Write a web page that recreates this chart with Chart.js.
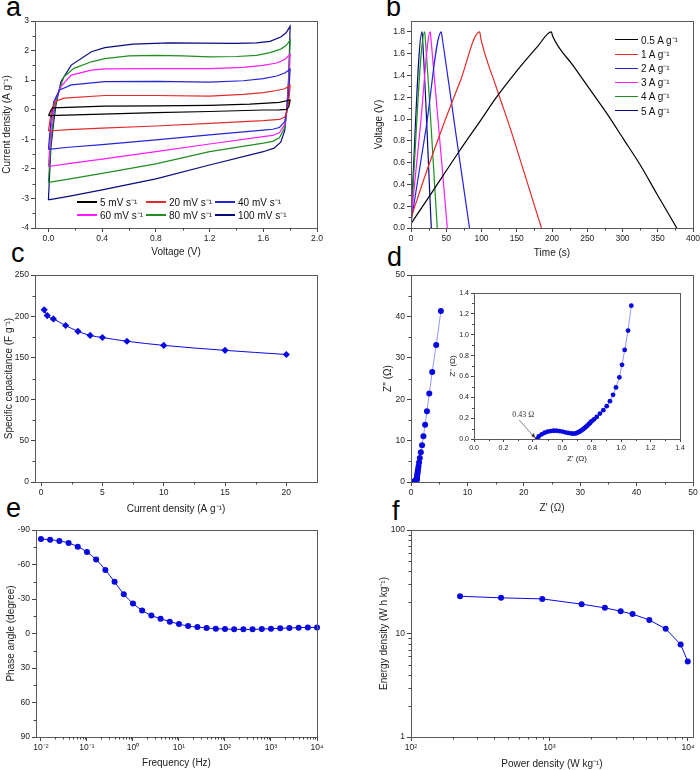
<!DOCTYPE html>
<html>
<head>
<meta charset="utf-8">
<script src="https://cdn.jsdelivr.net/npm/chart.js@4.4.1/dist/chart.umd.min.js"></script>
<style>
  body { margin: 0; background: #fff; width: 700px; height: 770px; position: relative; overflow: hidden;
         font-family: "Liberation Sans", Arial, sans-serif; }
  canvas { position: absolute; }
  .letter { position: absolute; font-size: 27px; line-height: 27px; color: #000; }
  .lg { position: absolute; font-size: 10px; line-height: 12px; height: 12px; white-space: nowrap; color: #111; }
  .lg .sw { display: inline-block; height: 0; border-top: 2px solid; vertical-align: middle; margin-right: 3px; position: relative; top: -1px; }
</style>
</head>
<body>

<div class="letter" style="left:6px;top:-6px">a</div>
<div class="letter" style="left:386px;top:-6px">b</div>
<div class="letter" style="left:11px;top:240px">c</div>
<div class="letter" style="left:387px;top:244px">d</div>
<div class="letter" style="left:6px;top:495px">e</div>
<div class="letter" style="left:392px;top:498px">f</div>

<script>
// ---- data ----
// (a) CV loops, [voltage, current density], upper branch then lower branch
const cv5 = [[0,-0.2],[0.02,0.0],[0.03,0.06],[0.42,0.12],[0.8,0.13],[1.2,0.15],[1.5,0.19],[1.72,0.25],[1.8,0.33],
  [1.79,0.1],[1.775,0.01],[1.72,-0.005],[1.6,-0.01],[1.2,-0.06],[0.8,-0.1],[0.4,-0.15],[0,-0.2]];
const cv20 = [[0,-0.72],[0.02,-0.1],[0.05,0.28],[0.115,0.39],[0.42,0.48],[0.8,0.48],[1.2,0.46],[1.45,0.52],[1.6,0.58],[1.7,0.65],[1.76,0.71],[1.8,0.82],
  [1.79,0.3],[1.775,-0.1],[1.76,-0.25],[1.72,-0.33],[1.6,-0.37],[1.2,-0.46],[0.8,-0.55],[0.4,-0.62],[0.15,-0.67],[0,-0.72]];
const cv40 = [[0,-1.34],[0.02,-0.3],[0.04,0.27],[0.083,0.67],[0.17,0.84],[0.42,0.95],[0.8,0.96],[1.2,0.93],[1.45,0.98],[1.6,1.05],[1.7,1.14],[1.76,1.24],[1.8,1.37],
  [1.79,0.6],[1.775,0],[1.76,-0.4],[1.72,-0.6],[1.67,-0.66],[1.6,-0.69],[1.2,-0.85],[0.8,-1.02],[0.4,-1.18],[0.15,-1.27],[0,-1.34]];
const cv60 = [[0,-1.92],[0.02,-0.6],[0.05,0.33],[0.093,0.78],[0.17,1.17],[0.32,1.34],[0.42,1.38],[0.8,1.39],[1.2,1.39],[1.45,1.43],[1.6,1.5],[1.7,1.58],[1.76,1.7],[1.8,1.87],
  [1.79,0.8],[1.775,0],[1.76,-0.5],[1.72,-0.78],[1.67,-0.87],[1.6,-0.91],[1.2,-1.16],[0.8,-1.42],[0.4,-1.67],[0.15,-1.82],[0,-1.92]];
const cv80 = [[0,-2.46],[0.02,-1.0],[0.045,0.0],[0.068,0.5],[0.115,1.11],[0.19,1.4],[0.32,1.62],[0.42,1.73],[0.6,1.82],[0.8,1.84],[1.0,1.82],[1.2,1.79],[1.4,1.8],[1.55,1.84],[1.65,1.93],[1.73,2.05],[1.77,2.17],[1.8,2.35],
  [1.79,1.0],[1.775,0],[1.76,-0.6],[1.72,-0.95],[1.67,-1.07],[1.6,-1.13],[1.2,-1.42],[0.8,-1.83],[0.4,-2.15],[0.15,-2.35],[0,-2.46]];
const cv100 = [[0,-3.05],[0.018,-1.3],[0.04,-0.4],[0.056,0.16],[0.093,0.95],[0.17,1.51],[0.32,1.96],[0.42,2.1],[0.63,2.22],[0.9,2.26],[1.13,2.25],[1.4,2.24],[1.55,2.26],[1.65,2.31],[1.73,2.46],[1.77,2.6],[1.8,2.82],
  [1.79,1.2],[1.775,0],[1.76,-0.7],[1.73,-1.1],[1.68,-1.3],[1.6,-1.42],[1.2,-1.87],[0.8,-2.34],[0.4,-2.71],[0.15,-2.93],[0,-3.05]];
const cvLabels = ['5 mV s⁻¹', '20 mV s⁻¹', '40 mV s⁻¹', '60 mV s⁻¹', '80 mV s⁻¹', '100 mV s⁻¹'];
const cvColors = ['#000000', '#e32b2b', '#2323d8', '#ff1aff', '#1f8f1f', '#0a0a80'];

// (b) charge/discharge, [time s, voltage V]
const gcd05 = [[0,0.04],[30,0.33],[68,0.70],[100,1.0],[120,1.19],[140,1.36],[160,1.52],[180,1.67],[199,1.8],
  [201,1.76],[230,1.49],[254,1.27],[278,1.05],[301,0.82],[325,0.58],[349,0.31],[377,0]];
const gcd1 = [[0,0.09],[20,0.48],[45,0.93],[70,1.35],[97.4,1.8],[99,1.74],[120,1.31],[140,0.93],[160,0.52],[185,0]];
const gcd2 = [[0,0.05],[21,0.9],[43,1.8],[44,1.76],[64,0.85],[83,0]];
const gcd3 = [[0,0.07],[13.5,0.95],[27.4,1.8],[28,1.76],[51.5,0]];
const gcd4 = [[0,0.08],[19.4,1.8],[20,1.76],[37.3,0]];
const gcd5 = [[0,0.1],[15.6,1.8],[16.2,1.76],[28.8,0]];
const gcdLabels = ['0.5 A g⁻¹', '1 A g⁻¹', '2 A g⁻¹', '3 A g⁻¹', '4 A g⁻¹', '5 A g⁻¹'];
const gcdColors = ['#000000', '#e32b2b', '#2323d8', '#ff1aff', '#1f8f1f', '#0a0a80'];

// (c) specific capacitance
const capCurrent = [0.25, 0.5, 1, 2, 3, 4, 5, 7, 10, 15, 20];
const capValue = [208, 201, 197, 189, 182, 177, 174.5, 170, 165, 159, 154];

// (d) Nyquist, Z' and Z''
const zRe = [0.43,0.44,0.46,0.48,0.50,0.52,0.54,0.56,0.58,0.60,0.62,0.64,0.66,0.675,0.69,0.70,0.71,0.72,0.73,0.74,0.75,0.76,0.77,0.78,0.79,0.80,
  0.816,0.834,0.856,0.879,0.902,0.924,0.945,0.965,0.988,1.006,1.024,1.047,1.069,
  1.10,1.14,1.19,1.25,1.33,1.43,1.56,1.74,1.96,2.2,2.5,2.83,3.24,3.76,4.47,5.3];
const zIm = [0,0.025,0.045,0.06,0.07,0.076,0.079,0.079,0.076,0.071,0.064,0.058,0.053,0.051,0.053,0.058,0.065,0.073,0.082,0.092,0.103,0.115,0.128,0.142,0.156,0.171,
  0.189,0.212,0.244,0.276,0.315,0.363,0.424,0.495,0.591,0.711,0.854,1.04,1.278,
  1.59,1.98,2.46,3.06,3.8,4.7,5.8,7.2,8.9,11.05,13.8,17.1,21.4,26.6,33.1,41.3];
const rsLabel = '0.43 Ω';
const rsValue = 0.43;

// (e) Bode phase
const freq = [0.01,0.0158,0.0251,0.0398,0.0631,0.1,0.158,0.251,0.398,0.631,1,1.58,2.51,3.98,6.31,10,15.8,25.1,39.8,63.1,
  100,158,251,398,631,1000,1585,2512,3981,6310,10000];
const phase = [-82.2,-81.6,-80.5,-78.7,-75.5,-70.9,-64.3,-55.3,-44.9,-34.2,-26.1,-20.1,-15.7,-12.9,-10.3,-8.2,-6.5,-5.6,-4.8,-4.2,
  -3.9,-3.6,-3.6,-3.6,-3.9,-4.2,-4.5,-4.8,-5.1,-5.3,-5.3];

// (f) Ragone
const power = [226, 447, 887, 1706, 2512, 3266, 3981, 5260, 6900, 8850, 9960];
const energy = [22.9, 22.1, 21.6, 19.2, 17.7, 16.4, 15.4, 13.5, 11.1, 7.83, 5.37];

// tick labels
const aXTicks = [0, 0.4, 0.8, 1.2, 1.6, 2.0];
const aYTicks = [-4, -3, -2, -1, 0, 1, 2, 3];
const bXTicks = [0, 50, 100, 150, 200, 250, 300, 350, 400];
const bYTicks = [0, 0.2, 0.4, 0.6, 0.8, 1.0, 1.2, 1.4, 1.6, 1.8];
const cXTicks = [0, 5, 10, 15, 20];
const cYTicks = [0, 50, 100, 150, 200, 250];
const dTicks = [0, 10, 20, 30, 40, 50];
const insetTicks = [0, 0.2, 0.4, 0.6, 0.8, 1.0, 1.2, 1.4];
const eXTicks = [0.01, 0.1, 1, 10, 100, 1000, 10000];
const eYTicks = [-90, -60, -30, 0, 30, 60, 90];
const fXTicks = [100, 1000, 10000];
const fYTicks = [1, 10, 100];

// ---- helpers ----
const FONT = '"Liberation Sans", Arial, Helvetica, sans-serif';
const BLUE = '#0808e0';
const SUP = { '-': '⁻', '0': '⁰', '1': '¹', '2': '²', '3': '³', '4': '⁴', '5': '⁵' };
const pow10 = v => '10' + String(Math.round(Math.log10(v))).split('').map(c => SUP[c]).join('');
const pairs = arr => arr.map(([x, y]) => ({ x, y }));
const zip = (xs, ys) => xs.map((x, i) => ({ x, y: ys[i] }));
const decadeMinors = (lo, hi) => { const out = []; for (let d = lo; d < hi; d *= 10) for (let k = 2; k < 10; k++) out.push(d * k); return out; };

// box frame + minor ticks (Origin style)
Chart.register({
  id: 'frame',
  afterDraw(chart, args, o) {
    const { ctx, chartArea: a, scales } = chart;
    const len = o.minorLen || 2.5;
    ctx.save();
    ctx.strokeStyle = '#5a5a5a';
    ctx.lineWidth = 1;
    ctx.strokeRect(Math.round(a.left) + 0.5, Math.round(a.top) + 0.5, Math.round(a.right - a.left), Math.round(a.bottom - a.top));
    ctx.strokeStyle = '#444';
    (o.minorX || []).forEach(v => {
      const x = Math.round(scales.x.getPixelForValue(v)) + 0.5;
      ctx.beginPath(); ctx.moveTo(x, a.bottom); ctx.lineTo(x, a.bottom + len); ctx.stroke();
    });
    (o.minorY || []).forEach(v => {
      const y = Math.round(scales.y.getPixelForValue(v)) + 0.5;
      ctx.beginPath(); ctx.moveTo(a.left, y); ctx.lineTo(a.left - len, y); ctx.stroke();
    });
    ctx.restore();
  }
});

// annotation arrow for the inset
Chart.register({
  id: 'annot',
  afterDraw(chart, args, o) {
    if (!o.text) return;
    const { ctx, scales } = chart;
    const px = scales.x.getPixelForValue(o.x), py = scales.y.getPixelForValue(o.y);
    ctx.save();
    ctx.font = '8px "Liberation Serif", "DejaVu Serif", serif';
    ctx.fillStyle = '#333';
    ctx.fillText(o.text, px - 25, py - 22);
    ctx.strokeStyle = '#555';
    ctx.lineWidth = 0.7;
    ctx.beginPath(); ctx.moveTo(px - 18, py - 19); ctx.lineTo(px - 3, py - 2); ctx.stroke();
    ctx.fillStyle = '#333';
    ctx.beginPath(); ctx.moveTo(px - 2, py - 1); ctx.lineTo(px - 6, py - 3); ctx.lineTo(px - 3.5, py - 6); ctx.closePath(); ctx.fill();
    ctx.restore();
  }
});

function axis(o) {
  return {
    type: o.type || 'linear',
    min: o.min, max: o.max, reverse: !!o.reverse,
    afterBuildTicks: s => { s.ticks = o.ticks.map(v => ({ value: v })); },
    afterFit: s => {
      s.paddingLeft = 0; s.paddingRight = 0; s.paddingTop = 0; s.paddingBottom = 0;
      if (s.isHorizontal()) s.height = o.size; else s.width = o.size;
    },
    ticks: { callback: o.fmt, font: { family: FONT, size: o.tickSize || 8.5 }, color: '#222', padding: 2,
             maxRotation: 0, autoSkip: false },
    grid: { drawOnChartArea: false, drawTicks: true, tickLength: o.tickLen || 4, color: '#444', tickColor: '#444' },
    border: { display: false },
    title: { display: true, text: o.title, color: '#222', padding: o.titlePad,
             font: { family: o.titleFamily || FONT, size: o.titleSize || 10 } }
  };
}

function makeChart(id, box, area, x, y, datasets, frame, annot) {
  const c = document.createElement('canvas');
  c.id = id; c.width = box.w; c.height = box.h;
  c.style.left = box.x + 'px'; c.style.top = box.y + 'px';
  c.style.width = box.w + 'px'; c.style.height = box.h + 'px';
  document.body.appendChild(c);
  x.size = box.y + box.h - area.bottom;
  y.size = area.left - box.x;
  return new Chart(c, {
    type: 'scatter',
    data: { datasets },
    options: {
      responsive: false, maintainAspectRatio: false, animation: false,
      layout: { padding: { left: 0, top: area.top - box.y, right: box.x + box.w - area.right, bottom: 0 } },
      plugins: { legend: { display: false }, tooltip: { enabled: false }, frame, annot: annot || {} },
      scales: { x: axis(x), y: axis(y) }
    }
  });
}

function htmlLegend(chart, spots, swatchW, lineW) {
  chart.data.datasets.forEach((ds, i) => {
    const d = document.createElement('div');
    d.className = 'lg';
    d.style.left = spots[i][0] + 'px';
    d.style.top = (spots[i][1] - 6) + 'px';
    d.innerHTML = `<span class="sw" style="width:${swatchW}px;border-top-width:${lineW}px;border-color:${ds.borderColor}"></span>${ds.label}`;
    document.body.appendChild(d);
  });
}

// ---- (a) CV ----
const cvLoops = [cv5, cv20, cv40, cv60, cv80, cv100];
const chartA = makeChart('cv',
  { x: 0, y: 0, w: 345, h: 262 }, { left: 35, top: 21, right: 317, bottom: 228 },
  { min: -0.1, max: 2.0, ticks: aXTicks, fmt: v => v.toFixed(1), title: 'Voltage (V)', titlePad: { bottom: 4 } },
  { min: -4, max: 3, ticks: aYTicks, fmt: v => String(v), title: 'Current density (A g⁻¹)', titlePad: { top: 1 } },
  cvLoops.map((loop, i) => ({
    label: cvLabels[i], data: pairs(loop), showLine: true, borderColor: cvColors[i], borderWidth: 1.2,
    pointRadius: 0, tension: 0
  })),
  { minorX: [0.2, 0.6, 1.0, 1.4, 1.8], minorY: [-3.5, -2.5, -1.5, -0.5, 0.5, 1.5, 2.5] });
htmlLegend(chartA, [[77, 203], [146, 203], [215, 203], [77, 215.5], [146, 215.5], [215, 215.5]], 20, 2);

// ---- (b) GCD ----
const gcdCurves = [gcd05, gcd1, gcd2, gcd3, gcd4, gcd5];
const chartB = makeChart('gcd',
  { x: 350, y: 0, w: 350, h: 262 }, { left: 411, top: 21, right: 693, bottom: 228 },
  { min: 0, max: 400, ticks: bXTicks, fmt: v => String(v), title: 'Time (s)', titlePad: { bottom: 3 } },
  { min: 0, max: 1.9, ticks: bYTicks, fmt: v => v.toFixed(1), title: 'Voltage (V)', titlePad: { top: 23 } },
  gcdCurves.map((curve, i) => ({
    label: gcdLabels[i], data: pairs(curve), showLine: true, borderColor: gcdColors[i], borderWidth: 1.2,
    pointRadius: 0, cubicInterpolationMode: 'monotone'
  })),
  { minorX: [25, 75, 125, 175, 225, 275, 325, 375], minorY: [0.1, 0.3, 0.5, 0.7, 0.9, 1.1, 1.3, 1.5, 1.7] });
htmlLegend(chartB, gcdLabels.map((_, i) => [615, 40.5 + i * 14.2]), 23, 1.3);

// ---- (c) specific capacitance ----
makeChart('cap',
  { x: 0, y: 245, w: 345, h: 272 }, { left: 35, top: 275, right: 317, bottom: 482 },
  { min: -0.5, max: 22.5, ticks: cXTicks, fmt: v => String(v), title: 'Current density (A g⁻¹)', titlePad: { bottom: 2 } },
  { min: 0, max: 250, ticks: cYTicks, fmt: v => String(v), title: 'Specific capacitance (F g⁻¹)', titlePad: { top: 3 } },
  [{ data: zip(capCurrent, capValue), showLine: true, borderColor: BLUE, borderWidth: 1, cubicInterpolationMode: 'monotone',
     pointStyle: 'rectRot', pointRadius: 3.6, pointBackgroundColor: BLUE, pointBorderWidth: 0 }],
  { minorX: [2.5, 7.5, 12.5, 17.5], minorY: [25, 75, 125, 175, 225] });

// ---- (d) Nyquist ----
makeChart('eis',
  { x: 350, y: 245, w: 350, h: 272 }, { left: 411, top: 275, right: 693, bottom: 482 },
  { min: 0, max: 50, ticks: dTicks, fmt: v => String(v), title: "Z' (Ω)", titlePad: { bottom: 3 } },
  { min: 0, max: 50, ticks: dTicks, fmt: v => String(v), title: "Z'' (Ω)", titlePad: { top: 32 } },
  [{ data: zip(zRe, zIm), showLine: true, borderColor: '#7a7aff', borderWidth: 0.8,
     pointRadius: 3, pointBackgroundColor: BLUE, pointBorderWidth: 0 }],
  { minorX: [5, 15, 25, 35, 45], minorY: [5, 15, 25, 35, 45] });

// inset
makeChart('inset',
  { x: 440, y: 285, w: 245, h: 180 }, { left: 474, top: 293, right: 680, bottom: 439 },
  { min: 0, max: 1.4, ticks: insetTicks, fmt: v => v.toFixed(1), title: "Z' (Ω)", titlePad: { bottom: 1 },
    tickSize: 7, titleSize: 8, tickLen: 3 },
  { min: 0, max: 1.4, ticks: insetTicks, fmt: v => v.toFixed(1), title: "Z'' (Ω)", titlePad: { top: 8 },
    tickSize: 7, titleSize: 8, tickLen: 3 },
  [{ data: zip(zRe, zIm).filter(p => p.y <= 1.4), showLine: true, borderColor: '#7a7aff', borderWidth: 0.8,
     pointRadius: 2.4, pointBackgroundColor: BLUE, pointBorderWidth: 0 }],
  { minorX: [0.1, 0.3, 0.5, 0.7, 0.9, 1.1, 1.3], minorY: [0.1, 0.3, 0.5, 0.7, 0.9, 1.1, 1.3], minorLen: 2 },
  { text: rsLabel, x: rsValue, y: 0 });

// ---- (e) Bode phase ----
makeChart('bode',
  { x: 0, y: 505, w: 345, h: 265 }, { left: 36, top: 530, right: 317, bottom: 737 },
  { type: 'logarithmic', min: 0.0078, max: 10000, ticks: eXTicks, fmt: pow10, title: 'Frequency (Hz)', titlePad: { bottom: 1 } },
  { min: -90, max: 90, reverse: true, ticks: eYTicks, fmt: v => String(v), title: 'Phase angle (degree)', titlePad: { top: 5 } },
  [{ data: zip(freq, phase), showLine: true, borderColor: BLUE, borderWidth: 1, cubicInterpolationMode: 'monotone',
     pointRadius: 3, pointBackgroundColor: BLUE, pointBorderWidth: 0, clip: false }],
  { minorX: decadeMinors(0.01, 10000), minorY: [-75, -45, -15, 15, 45, 75] });

// ---- (f) Ragone ----
makeChart('ragone',
  { x: 350, y: 505, w: 350, h: 265 }, { left: 411, top: 530, right: 693, bottom: 737 },
  { type: 'logarithmic', min: 100, max: 10870, ticks: fXTicks, fmt: pow10, title: 'Power density (W kg⁻¹)', titlePad: { bottom: 0 } },
  { type: 'logarithmic', min: 1, max: 100, ticks: fYTicks, fmt: v => String(v), title: 'Energy density (W h kg⁻¹)', titlePad: { top: 28 } },
  [{ data: zip(power, energy), showLine: true, borderColor: BLUE, borderWidth: 1,
     pointRadius: 3, pointBackgroundColor: BLUE, pointBorderWidth: 0 }],
  { minorX: decadeMinors(100, 10000), minorY: decadeMinors(1, 100) });
</script>
</body>
</html>
